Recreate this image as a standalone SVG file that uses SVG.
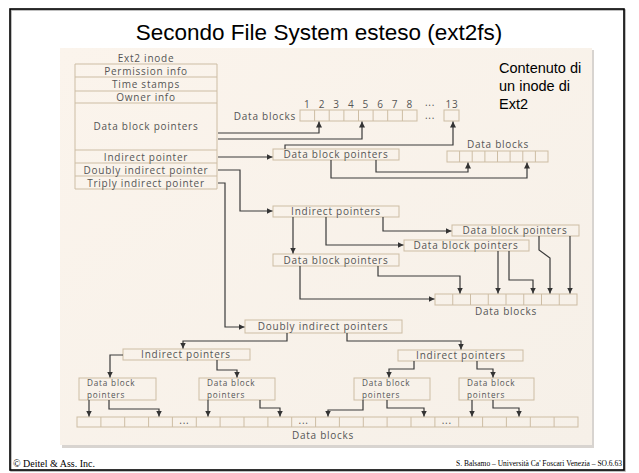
<svg xmlns="http://www.w3.org/2000/svg" width="639" height="473" viewBox="0 0 639 473">
<defs>
<marker id="ah" markerWidth="6" markerHeight="6" refX="6" refY="3" orient="auto" markerUnits="userSpaceOnUse">
<path d="M0,0 L6,3 L0,6 z" fill="#333"/>
</marker>
<linearGradient id="bg" x1="0" y1="0" x2="1" y2="1">
<stop offset="0" stop-color="#fbf4ec"/>
<stop offset="1" stop-color="#f6f0e8"/>
</linearGradient>
</defs>
<style>
.box{fill:none;stroke:#cdbda4;stroke-width:1}
.t{font-family:"Open Sans","DejaVu Sans",sans-serif;font-size:10px;fill:#555;letter-spacing:0.75px}
.s{font-size:8.2px;letter-spacing:0.8px}
.tc{text-anchor:middle}
.c{fill:none;stroke:#3a3a3a;stroke-width:1.2;marker-end:url(#ah)}
</style>
<rect x="0" y="0" width="639" height="473" fill="#ffffff"/>
<rect x="11" y="10" width="614" height="461" fill="none" stroke="#aaaaaa" stroke-width="1.5"/>
<rect x="10" y="9" width="614" height="461" fill="none" stroke="#000" stroke-width="1.6"/>
<text x="319" y="40" text-anchor="middle" font-family="Liberation Sans, Arial, sans-serif" font-size="22.5" fill="#000">Secondo File System esteso (ext2fs)</text>
<rect x="62" y="50" width="532" height="398" fill="#d8d4d0"/>
<rect x="60" y="48" width="532" height="397" fill="url(#bg)"/>
<g id="inode">
<path class="box" d="M75,64 H217 M75,77 H217 M75,91 H217 M75,103 H217 M75,150 H217 M75,163 H217 M75,176 H217 M75,189 H217 M75,64 V189 M217,64 V189"/>
<text class="t tc" x="146" y="61.5">Ext2 inode</text>
<text class="t tc" x="146" y="74.5">Permission info</text>
<text class="t tc" x="146" y="88">Time stamps</text>
<text class="t tc" x="146" y="100.5">Owner info</text>
<text class="t tc" x="146" y="129.5">Data block pointers</text>
<text class="t tc" x="146" y="160.5">Indirect pointer</text>
<text class="t tc" x="146" y="173.5">Doubly indirect pointer</text>
<text class="t tc" x="146" y="186.5">Triply indirect pointer</text>
</g>
<g id="blocks-top">
<text class="t" x="296" y="119.5" text-anchor="end">Data blocks</text>
<rect class="box" x="300" y="110" width="117" height="11"/>
<path class="box" d="M314.6,110 V121 M329.2,110 V121 M343.9,110 V121 M358.5,110 V121 M373.1,110 V121 M387.7,110 V121 M402.4,110 V121"/>
<text class="t tc" x="307.3" y="108">1</text>
<text class="t tc" x="321.9" y="108">2</text>
<text class="t tc" x="336.5" y="108">3</text>
<text class="t tc" x="351.2" y="108">4</text>
<text class="t tc" x="365.8" y="108">5</text>
<text class="t tc" x="380.4" y="108">6</text>
<text class="t tc" x="395" y="108">7</text>
<text class="t tc" x="409.7" y="108">8</text>
<text class="t tc" x="430" y="106" font-size="8">...</text>
<text class="t tc" x="430" y="119" font-size="8">...</text>
<text class="t tc" x="452" y="108">13</text>
<rect class="box" x="444" y="110" width="15" height="11"/>
</g>
<g id="dbp1">
<rect class="box" x="273" y="149" width="126" height="11"/>
<text class="t tc" x="336" y="158">Data block pointers</text>
</g>
<g id="blocks-right">
<text class="t tc" x="498" y="147.5">Data blocks</text>
<rect class="box" x="447" y="151" width="101" height="11"/>
<path class="box" d="M459.6,151 V162 M472.2,151 V162 M484.9,151 V162 M497.5,151 V162 M510.1,151 V162 M522.8,151 V162 M535.4,151 V162"/>
</g>
<g id="ip1">
<rect class="box" x="273" y="206" width="126" height="11"/>
<text class="t tc" x="336" y="215">Indirect pointers</text>
</g>
<g id="dbp2">
<rect class="box" x="452" y="225" width="127" height="11"/>
<text class="t tc" x="515" y="234">Data block pointers</text>
</g>
<g id="dbp3">
<rect class="box" x="404" y="240" width="125" height="11"/>
<text class="t tc" x="466" y="249">Data block pointers</text>
</g>
<g id="dbp4">
<rect class="box" x="273" y="254" width="126" height="12"/>
<text class="t tc" x="336" y="263.5">Data block pointers</text>
</g>
<g id="blocks-mid">
<rect class="box" x="435" y="294" width="142" height="11"/>
<path class="box" d="M452.75,294 V305 M470.5,294 V305 M488.25,294 V305 M506,294 V305 M523.75,294 V305 M541.5,294 V305 M559.25,294 V305"/>
<text class="t tc" x="506" y="314.5">Data blocks</text>
</g>
<g id="dip">
<rect class="box" x="245" y="320" width="157" height="13"/>
<text class="t tc" x="323" y="330">Doubly indirect pointers</text>
</g>
<g id="ip-left">
<rect class="box" x="123" y="349" width="127" height="11"/>
<text class="t tc" x="186" y="358">Indirect pointers</text>
</g>
<g id="ip-right">
<rect class="box" x="398" y="350" width="125" height="11"/>
<text class="t tc" x="461" y="359">Indirect pointers</text>
</g>
<g id="dbp-a">
<rect class="box" x="79" y="378" width="77" height="22"/>
<text class="t s" x="87" y="386">Data block</text>
<text class="t s" x="87" y="397.5">pointers</text>
</g>
<g id="dbp-b">
<rect class="box" x="199" y="378" width="76" height="22"/>
<text class="t s" x="207" y="386">Data block</text>
<text class="t s" x="207" y="397.5">pointers</text>
</g>
<g id="dbp-c">
<rect class="box" x="354" y="378" width="76" height="22"/>
<text class="t s" x="362" y="386">Data block</text>
<text class="t s" x="362" y="397.5">pointers</text>
</g>
<g id="dbp-d">
<rect class="box" x="459" y="378" width="75" height="22"/>
<text class="t s" x="467" y="386">Data block</text>
<text class="t s" x="467" y="397.5">pointers</text>
</g>
<g id="blocks-bottom">
<rect class="box" x="77" y="417" width="501" height="10"/>
<path class="box" d="M100.9,417 V427 M124.7,417 V427 M148.6,417 V427 M172.4,417 V427 M196.3,417 V427 M220.1,417 V427 M244,417 V427 M267.9,417 V427 M291.7,417 V427 M315.6,417 V427 M339.4,417 V427 M363.3,417 V427 M387.1,417 V427 M411,417 V427 M434.9,417 V427 M458.7,417 V427 M482.6,417 V427 M506.4,417 V427 M530.3,417 V427 M554.1,417 V427"/>
<text class="t tc" x="184.4" y="424" font-size="6">...</text>
<text class="t tc" x="303.6" y="424" font-size="6">...</text>
<text class="t tc" x="446.8" y="424" font-size="6">...</text>
<text class="t tc" x="323" y="438.5">Data blocks</text>
</g>
<g id="note">
<text x="499" y="73" font-family="Liberation Sans, Arial, sans-serif" font-size="14.5" fill="#000">Contenuto di</text>
<text x="499" y="91" font-family="Liberation Sans, Arial, sans-serif" font-size="14.5" fill="#000">un inode di</text>
<text x="499" y="109" font-family="Liberation Sans, Arial, sans-serif" font-size="14.5" fill="#000">Ext2</text>
</g>
<g id="footer">
<text x="13" y="467" font-family="Liberation Serif, Times New Roman, serif" font-size="10" fill="#000">© Deitel &amp; Ass. Inc.</text>
<text x="622" y="466" text-anchor="end" font-family="Liberation Serif, Times New Roman, serif" font-size="7.5" fill="#000">S. Balsamo – Università Ca' Foscari Venezia – SO.6.63</text>
</g>
<g id="connectors">
<path class="c" d="M218,133 H319 V121.5"/>
<path class="c" d="M218,139 H362 V121.5"/>
<path class="c" d="M285,149 V145 H453 V121.5"/>
<path class="c" d="M218,157 H272.5"/>
<path class="c" d="M331,160 V178 H527 V162.5"/>
<path class="c" d="M376,160 V172 H468 V162.5"/>
<path class="c" d="M218,170 H240 V211 H272.5"/>
<path class="c" d="M218,183 H225 V327 H244.5"/>
<path class="c" d="M293,217 V253.5"/>
<path class="c" d="M326,217 V245 H403.5"/>
<path class="c" d="M383,217 V231 H451.5"/>
<path class="c" d="M300,266 V299 H434.5"/>
<path class="c" d="M378,266 V276 H460 V293.5"/>
<path class="c" d="M498,251 V293.5"/>
<path class="c" d="M509,251 V280 H533 V293.5"/>
<path class="c" d="M539,236 V250 L550,258 V293.5"/>
<path class="c" d="M570,236 V293.5"/>
<path class="c" d="M287,333 V341 H183 V348.5"/>
<path class="c" d="M347,333 V341 H461 V349.5"/>
<path class="c" d="M123,355 H110 V377.5"/>
<path class="c" d="M217,360 V370 H237 V377.5"/>
<path class="c" d="M414,361 V369 H389 V377.5"/>
<path class="c" d="M477,361 V369 H493 V377.5"/>
<path class="c" d="M89,400 V416.5"/>
<path class="c" d="M109,400 V409 H159 V416.5"/>
<path class="c" d="M208,400 V416.5"/>
<path class="c" d="M260,400 V408 H280 V416.5"/>
<path class="c" d="M363,400 V410 H328 V416.5"/>
<path class="c" d="M387,400 V408 H424 V416.5"/>
<path class="c" d="M472,400 V416.5"/>
<path class="c" d="M493,400 V408 H519 V416.5"/>
</g>
</svg>
